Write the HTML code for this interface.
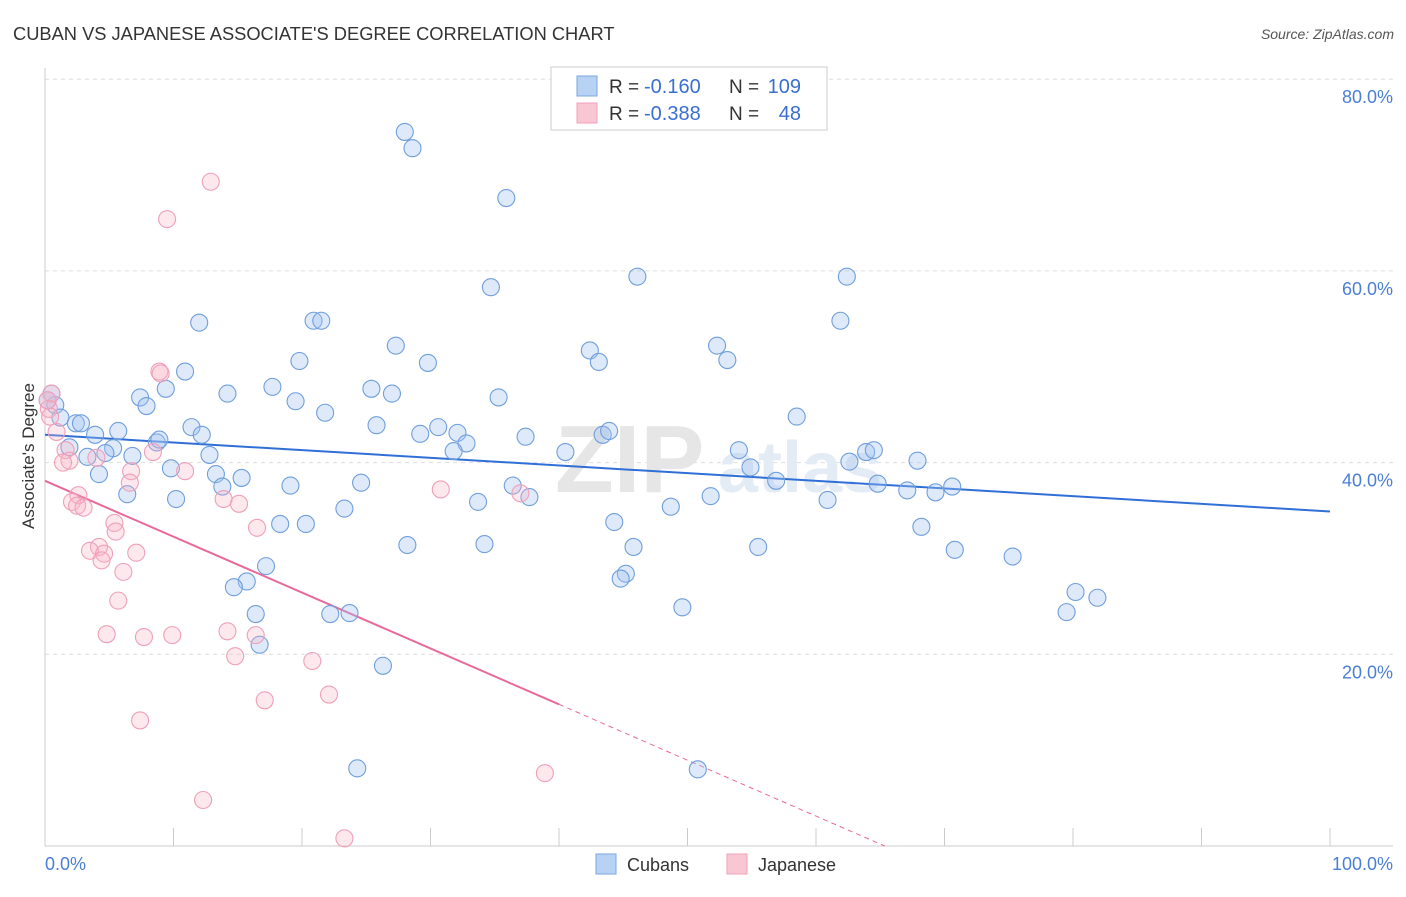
<!DOCTYPE html>
<html><head><meta charset="utf-8">
<style>
body{margin:0;background:#fff;font-family:"Liberation Sans",sans-serif;}
svg text{font-family:"Liberation Sans",sans-serif;}
</style></head>
<body>
<svg width="1406" height="892" viewBox="0 0 1406 892">
<text x="13" y="40" font-size="18.3" fill="#333">CUBAN VS JAPANESE ASSOCIATE'S DEGREE CORRELATION CHART</text>
<text x="1394" y="39" font-size="14" fill="#555" font-style="italic" text-anchor="end">Source: ZipAtlas.com</text>
<g id="grid"></g>
<g id="wm">
<text x="555" y="492" font-size="96" fill="#e6e6e6" font-family="Liberation Serif" font-weight="bold">ZIP</text>
<text x="718" y="492" font-size="72" fill="#e3ebf5" font-weight="bold">atlas</text>
</g>
<g id="axes"></g>
<g id="trend"></g>
<g id="pts"></g>
<text x="34" y="456" font-size="17" fill="#333" text-anchor="middle" transform="rotate(-90 34 456)">Associate's Degree</text>
<text x="45" y="870" font-size="18" fill="#4a7fd6">0.0%</text>
<text x="1393" y="870" font-size="18" fill="#4a7fd6" text-anchor="end">100.0%</text>
<g>
<rect x="551" y="67" width="276" height="63" fill="#fff" stroke="#ccc"/>
<rect x="577" y="76" width="20" height="20" fill="#b8d2f4" stroke="#7aa7e0"/>
<rect x="577" y="103" width="20" height="20" fill="#f9c6d4" stroke="#f0a0b8"/>
<text x="609" y="93" font-size="19" fill="#333">R =</text>
<text x="644" y="93" font-size="20" fill="#3a6fd0">-0.160</text>
<text x="729" y="93" font-size="19" fill="#333">N =</text>
<text x="801" y="93" font-size="20" fill="#3a6fd0" text-anchor="end">109</text>
<text x="609" y="120" font-size="19" fill="#333">R =</text>
<text x="644" y="120" font-size="20" fill="#3a6fd0">-0.388</text>
<text x="729" y="120" font-size="19" fill="#333">N =</text>
<text x="801" y="120" font-size="20" fill="#3a6fd0" text-anchor="end">48</text>
</g>
<g>
<rect x="596" y="854" width="20" height="20" fill="#b8d2f4" stroke="#7aa7e0"/>
<text x="627" y="871" font-size="18" fill="#333">Cubans</text>
<rect x="727" y="854" width="20" height="20" fill="#f9c6d4" stroke="#f0a0b8"/>
<text x="758" y="871" font-size="18" fill="#333">Japanese</text>
</g>
</svg>
<script>
const yTicks=[20,40,60,80];
const yTickLabels=["20.0%","40.0%","60.0%","80.0%"];
const xTickVals=[0,10,20,30,40,50,60,70,80,90,100];
const cubanX=[28.0,28.6,35.9,46.1,62.4,34.7,12.0,20.9,21.5,61.9,27.3,42.4,52.3,53.1,19.8,29.8,43.1,10.9,9.4,7.4,7.9,14.2,17.7,25.4,27.0,19.5,35.3,21.8,58.5,0.8,0.2,1.2,2.4,2.8,3.9,1.9,5.7,11.4,12.2,25.8,30.6,29.2,32.1,32.8,31.8,37.4,43.4,43.9,40.5,54.0,63.9,64.5,8.7,8.9,5.3,3.3,4.7,6.8,12.8,62.6,67.9,54.9,9.8,4.2,13.3,15.3,13.8,19.1,24.6,36.4,37.7,33.7,6.4,10.2,51.8,60.9,64.8,67.1,69.3,70.6,56.9,23.3,18.3,20.3,44.3,48.7,68.2,28.2,34.2,45.8,55.5,70.8,75.3,17.2,45.2,44.8,15.7,14.7,80.2,81.9,49.6,79.5,16.4,22.2,23.7,16.7,26.3,24.3,50.8,0.5];
const cubanY=[74.5,72.8,67.6,59.4,59.4,58.3,54.6,54.8,54.8,54.8,52.2,51.7,52.2,50.7,50.6,50.4,50.5,49.5,47.7,46.8,45.9,47.2,47.9,47.7,47.2,46.4,46.8,45.2,44.8,46.0,46.5,44.7,44.1,44.1,42.9,41.6,43.3,43.7,42.9,43.9,43.7,43.0,43.1,42.0,41.2,42.7,42.9,43.3,41.1,41.3,41.1,41.3,42.1,42.4,41.5,40.6,41.0,40.7,40.8,40.1,40.2,39.5,39.4,38.8,38.8,38.4,37.5,37.6,37.9,37.6,36.4,35.9,36.7,36.2,36.5,36.1,37.8,37.1,36.9,37.5,38.1,35.2,33.6,33.6,33.8,35.4,33.3,31.4,31.5,31.2,31.2,30.9,30.2,29.2,28.4,27.9,27.6,27.0,26.5,25.9,24.9,24.4,24.2,24.2,24.3,21.0,18.8,8.1,8.0,47.2];
const japX=[12.9,9.5,8.9,9.0,0.5,0.3,0.4,0.9,1.6,1.9,1.4,4.0,8.4,6.7,10.9,30.8,6.6,2.6,2.1,2.5,3.0,13.9,15.1,37.0,5.4,5.5,16.5,4.2,3.5,4.6,4.4,7.1,6.1,5.7,4.8,7.7,9.9,14.2,16.4,14.8,20.8,22.1,17.1,7.4,38.9,12.3,23.3,0.2];
const japY=[69.3,65.4,49.5,49.3,47.2,45.6,44.8,43.2,41.3,40.2,40.0,40.5,41.1,39.1,39.1,37.2,37.9,36.6,35.9,35.5,35.3,36.2,35.7,36.8,33.7,32.8,33.2,31.2,30.8,30.5,29.8,30.6,28.6,25.6,22.1,21.8,22.0,22.4,22.0,19.8,19.3,15.8,15.2,13.1,7.6,4.8,0.8,46.5];
const cubanTrend=[42.9,34.9];
const japTrend=[38.1,-0.583];
const japSolidEnd=40;

const NS="http://www.w3.org/2000/svg";
const X=v=>45+v*12.85;
const Y=v=>846-v*9.585;
function mk(tag,attrs,parent){const e=document.createElementNS(NS,tag);for(const k in attrs)e.setAttribute(k,attrs[k]);parent.appendChild(e);return e;}
const grid=document.getElementById('grid');
yTicks.forEach((t,i)=>{
  const l=mk('line',{x1:45,x2:1393,y1:Y(t),y2:Y(t),stroke:'#ddd','stroke-dasharray':'4,4'},grid);
  
  
  const tx=mk('text',{x:1393,y:Y(t)+24,'font-size':18,fill:'#4a7fd6','text-anchor':'end'},grid);
  tx.textContent=yTickLabels[i];
  
  
});
const axes=document.getElementById('axes');
mk('line',{x1:45,x2:45,y1:68,y2:846,stroke:'#ccc'},axes);
mk('line',{x1:45,x2:1393,y1:846,y2:846,stroke:'#ccc'},axes);
xTickVals.forEach(v=>{
  const l=mk('line',{x1:X(v),x2:X(v),y1:828,y2:846,stroke:'#ccc'},axes);
  
  
});
const tr=document.getElementById('trend');
const bl=mk('line',{x1:X(0),y1:Y(cubanTrend[0]),x2:X(100),y2:Y(cubanTrend[1]),stroke:'#2f6fd6','stroke-width':2},tr);


const jy=x=>japTrend[0]+japTrend[1]*x;
const xEnd=-japTrend[0]/japTrend[1];
const pl=mk('line',{x1:X(0),y1:Y(jy(0)),x2:X(japSolidEnd),y2:Y(jy(japSolidEnd)),stroke:'#e8699a','stroke-width':2},tr);


const pd=mk('line',{x1:X(japSolidEnd),y1:Y(jy(japSolidEnd)),x2:X(xEnd),y2:Y(0),stroke:'#e8699a','stroke-width':1,'stroke-dasharray':'5,4'},tr);


const pts=document.getElementById('pts');
cubanX.forEach((x,i)=>{
  const c=mk('circle',{cx:X(x),cy:Y(cubanY[i]),r:8.5,fill:'rgba(160,196,240,0.35)',stroke:'#6f9fdc','stroke-width':1.1},pts);
  
  
});
japX.forEach((x,i)=>{
  const c=mk('circle',{cx:X(x),cy:Y(japY[i]),r:8.5,fill:'rgba(248,180,200,0.3)',stroke:'#efa0b9','stroke-width':1.1},pts);
  
  
});
</script>
</body></html>
